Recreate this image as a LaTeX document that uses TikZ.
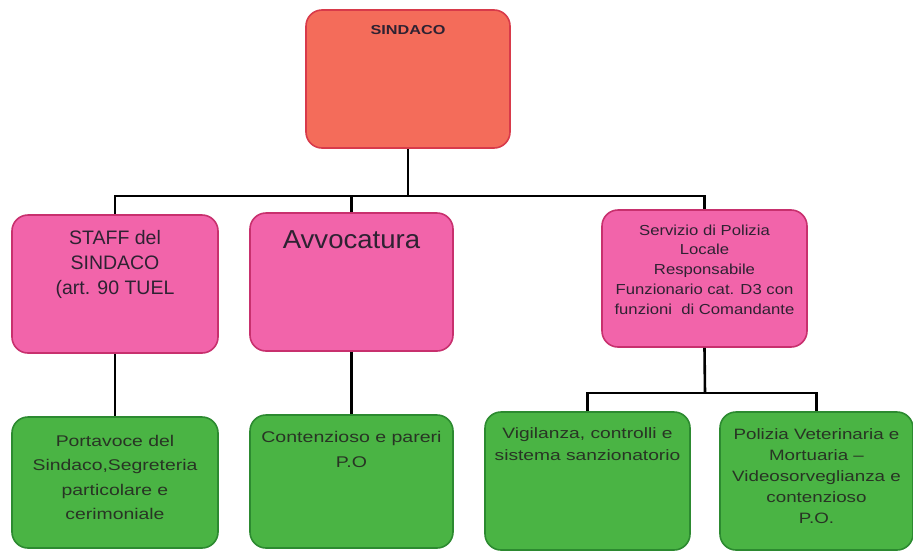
\documentclass[tikz,border=0pt]{standalone}
\usepackage{fontspec}
\setmainfont{Liberation Sans}
\begin{document}
\begin{tikzpicture}[x=1pt,y=-1pt]
\definecolor{redfill}{HTML}{F46C5A}
\definecolor{redline}{HTML}{D83A4A}
\definecolor{pinkfill}{HTML}{F264AA}
\definecolor{pinkline}{HTML}{C8306E}
\definecolor{greenfill}{HTML}{4AB444}
\definecolor{greenline}{HTML}{2C8A30}
\definecolor{txt}{HTML}{2E2232}
\definecolor{gtxt}{HTML}{283424}
\tikzset{
  box/.style={draw, line width=1.6pt, rounded corners=16pt, inner sep=0pt, text=txt, anchor=center},
  redbox/.style={box, fill=redfill, draw=redline},
  pinkbox/.style={box, fill=pinkfill, draw=pinkline},
  greenbox/.style={box, fill=greenfill, draw=greenline, text=gtxt},
  conn/.style={line width=2.6pt, black}
}
\newcommand\bx[4]{\parbox[c][#2pt][t]{#1pt}{\centering\vspace*{#3pt}#4\par}}
\newcommand\fs[3]{\fontsize{#1}{#2}\selectfont\addfontfeatures{FakeStretch=#3}}
\useasboundingbox (0,0) rectangle (913,552);
% top
\node[redbox] (sind) at (408,79) {\bx{204}{138}{15}{\fs{13}{15}{1.25}\bfseries SINDACO}};
% level 2
\node[pinkbox] (staff) at (115,284) {\bx{206}{138}{15}{\fs{19.5}{25}{1.0}STAFF del\\SINDACO\\(art. 90 TUEL}};
\node[pinkbox] (avv) at (351.5,282) {\bx{203}{138}{18}{\fs{26}{28}{1.06}Avvocatura}};
\node[pinkbox] (pol) at (704.5,278.5) {\bx{205}{137}{14.5}{\fs{14.5}{19.8}{1.15}Servizio di Polizia\\Locale\\Responsabile\\Funzionario cat. D3 con\\funzioni\ \ di Comandante}};
% level 3
\node[greenbox] (port) at (115,482.5) {\bx{206}{131}{18}{\fs{15.5}{24.5}{1.25}Portavoce del\\Sindaco,Segreteria\\particolare e\\cerimoniale}};
\node[greenbox] (cont) at (351.5,481.5) {\bx{203}{133}{16}{\fs{15.5}{25}{1.26}Contenzioso e pareri\\P.O}};
\node[greenbox] (vig) at (587.5,481) {\bx{205}{138}{15.5}{\fs{15}{22}{1.28}Vigilanza, controlli e\\sistema sanzionatorio}};
\node[greenbox] (vet) at (816.5,481) {\bx{193}{138}{17}{\fs{15}{21}{1.25}Polizia Veterinaria e\\Mortuaria --\\Videosorveglianza e\\contenzioso\\P.O.}};
% connectors
\coordinate (h1) at (408,196);
\draw[conn] (sind.south) -- (h1);
\draw[conn] (staff.north) |- (h1) -| (pol.north);
\draw[conn] (avv.north) -- (avv.north |- h1);
\draw[conn] (staff.south) -- (port.north);
\draw[conn] (avv.south) -- (cont.north);
\coordinate (h2) at (705,393);
\draw[conn] (pol.south) -- (h2);
\draw[conn] (vig.north) |- (h2) -| (vet.north);
\end{tikzpicture}
\end{document}
